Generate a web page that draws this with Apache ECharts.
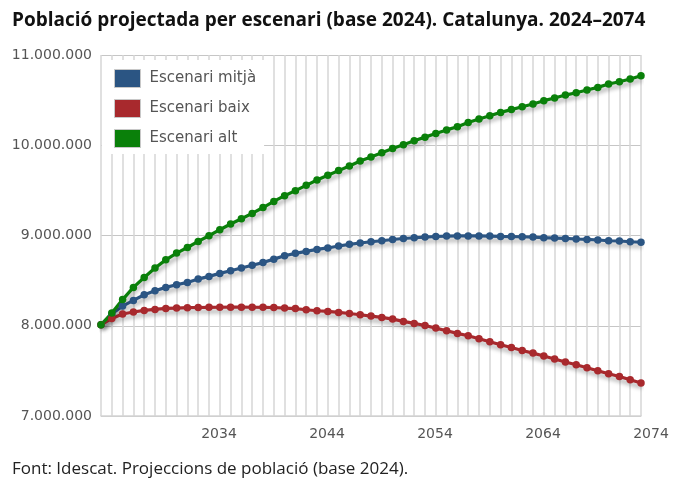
<!DOCTYPE html>
<html>
<head>
<meta charset="utf-8">
<script src="https://cdn.jsdelivr.net/npm/echarts@6/dist/echarts.min.js"></script>
<style>
  html, body { margin: 0; padding: 0; background: #fff; }
  #chart { width: 676px; height: 488px; }
</style>
</head>
<body>
<div id="chart"></div>
<script>
// ---------------------------------------------------------------------------
// Dades (persones), llegides del gràfic
// ---------------------------------------------------------------------------
var years = [];
for (var y = 2024; y <= 2074; y++) years.push(String(y));

var xTickLabels = ['2034', '2044', '2054', '2064', '2074'];
var yTicks = [7000000, 8000000, 9000000, 10000000, 11000000];

var mitja = [
  8010000, 8130000, 8218000, 8281000, 8343000, 8388000, 8425000, 8454000, 8480000, 8517000,
  8547000, 8580000, 8610000, 8640000, 8670000, 8700000, 8738000, 8776000, 8802000, 8824000,
  8846000, 8862000, 8884000, 8902000, 8917000, 8931000, 8942000, 8956000, 8967000, 8975000,
  8983000, 8989000, 8994000, 8995000, 8995000, 8995000, 8994000, 8990000, 8988000, 8986000,
  8983000, 8976000, 8972000, 8968000, 8961000, 8957000, 8950000, 8942000, 8939000, 8931000,
  8925000
];

var baix = [
  8010000, 8081000, 8130000, 8152000, 8170000, 8181000, 8192000, 8196000, 8200000, 8202000,
  8204000, 8205000, 8206000, 8206000, 8205000, 8204000, 8202000, 8196000, 8190000, 8177000,
  8166000, 8159000, 8148000, 8136000, 8122000, 8107000, 8092000, 8074000, 8048000, 8026000,
  8003000, 7974000, 7945000, 7915000, 7889000, 7856000, 7823000, 7789000, 7759000, 7726000,
  7697000, 7664000, 7631000, 7598000, 7568000, 7534000, 7501000, 7468000, 7438000, 7401000,
  7365000
];

var alt = [
  8010000, 8140000, 8290000, 8425000, 8535000, 8640000, 8730000, 8805000, 8867000, 8934000,
  8997000, 9064000, 9127000, 9186000, 9245000, 9310000, 9378000, 9441000, 9497000, 9556000,
  9615000, 9667000, 9719000, 9771000, 9825000, 9870000, 9917000, 9965000, 10006000, 10050000,
  10090000, 10130000, 10170000, 10205000, 10253000, 10290000, 10327000, 10364000, 10395000, 10427000,
  10457000, 10494000, 10523000, 10556000, 10582000, 10612000, 10641000, 10678000, 10704000, 10734000,
  10770000
];

var seriesNames = ['Escenari mitjà', 'Escenari baix', 'Escenari alt'];
var seriesColors = ['#2b5583', '#a8292d', '#0a800a'];

// format 11.000.000
function fmt(v) {
  return String(v).replace(/\B(?=(\d{3})+(?!\d))/g, '.');
}

function makeLine(name, data, color) {
  return {
    name: name,
    type: 'line',
    data: data,
    symbol: 'circle',
    symbolSize: 7.5,
    showSymbol: true,
    itemStyle: { color: color },
    lineStyle: {
      width: 3.2,
      color: color,
      shadowColor: 'rgba(0, 0, 0, 0.35)',
      shadowBlur: 4,
      shadowOffsetX: 1,
      shadowOffsetY: 4
    },
    emphasis: { disabled: true },
    z: 3
  };
}

var chart = echarts.init(document.getElementById('chart'));

var option = {
  animation: false,
  backgroundColor: '#fff',
  title: [{
    text: 'Població projectada per escenari (base 2024). Catalunya. 2024–2074',
    left: 7,
    top: 6,
    textStyle: { fontFamily: 'Open Sans', fontWeight: 'bold', fontSize: 19, color: '#111' }
  }, {
    text: 'Font: Idescat. Projeccions de població (base 2024).',
    left: 7,
    top: 456,
    textStyle: { fontFamily: 'Open Sans', fontWeight: 'normal', fontSize: 17, color: '#222' }
  }],
  legend: {
    data: seriesNames,
    orient: 'vertical',
    left: 102,
    top: 60,
    padding: [9, 8, 6, 12],
    backgroundColor: '#fff',
    itemWidth: 26,
    itemHeight: 18,
    itemGap: 11,
    icon: 'rect',
    itemStyle: { borderColor: '#c8c8c8', borderWidth: 1 },
    textStyle: { fontFamily: 'DejaVu Sans', fontSize: 15, color: '#555', padding: [0, 0, 0, 4] },
    z: 10
  },
  grid: { left: 101, right: 35, top: 55, bottom: 72, containLabel: false },
  xAxis: {
    type: 'category',
    data: years,
    boundaryGap: false,
    axisLine: { show: true, lineStyle: { color: '#d4d4d4', width: 1.5 } },
    axisTick: { show: false },
    axisLabel: {
      interval: 0,
      formatter: function (v) { return xTickLabels.indexOf(v) >= 0 ? v : ''; },
      fontFamily: 'DejaVu Sans',
      fontSize: 14,
      color: '#555',
      margin: 11,
      padding: [0, 0, 0, 20]
    },
    splitLine: { show: true, interval: 0, lineStyle: { color: '#d6d6d6', width: 1.5 } }
  },
  yAxis: {
    type: 'value',
    min: yTicks[0],
    max: yTicks[yTicks.length - 1],
    interval: 1000000,
    axisLine: { show: false },
    axisTick: { show: false },
    axisLabel: {
      formatter: fmt,
      fontFamily: 'DejaVu Sans',
      fontSize: 14,
      color: '#555',
      margin: 9
    },
    splitLine: { lineStyle: { color: '#c6c6c6', width: 1 } }
  },
  series: [
    makeLine(seriesNames[0], mitja, seriesColors[0]),
    makeLine(seriesNames[1], baix, seriesColors[1]),
    makeLine(seriesNames[2], alt, seriesColors[2])
  ]
};

chart.setOption(option);
</script>
</body>
</html>
